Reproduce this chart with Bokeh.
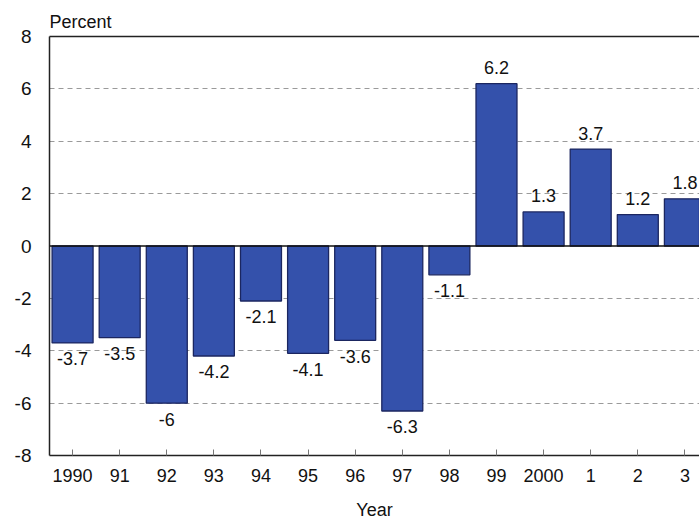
from bokeh.plotting import figure
from bokeh.models import ColumnDataSource, FixedTicker, Range1d, LinearAxis, Span
from bokeh.core.properties import value
from bokeh.embed import file_html
from bokeh.resources import INLINE

years = ["1990", "91", "92", "93", "94", "95", "96", "97", "98", "99", "2000", "1", "2", "3"]
values = [-3.7, -3.5, -6, -4.2, -2.1, -4.1, -3.6, -6.3, -1.1, 6.2, 1.3, 3.7, 1.2, 1.8]
value_labels = ["-3.7", "-3.5", "-6", "-4.2", "-2.1", "-4.1", "-3.6", "-6.3", "-1.1", "6.2", "1.3", "3.7", "1.2", "1.8"]
y_ticks = [-8, -6, -4, -2, 0, 2, 4, 6, 8]
y_tick_labels = ["-8", "-6", "-4", "-2", "0", "2", "4", "6", "8"]
grid_ticks = [-6, -4, -2, 2, 4, 6]

FONT = "Liberation Sans"
xs = list(range(len(years)))
src = ColumnDataSource(dict(
    x=xs, v=values, lab=value_labels,
    off=[-16 if v > 0 else 16 for v in values],
))

p = figure(width=699, height=522, output_backend="svg", toolbar_location=None,
           x_range=Range1d(-0.49, 13.31), y_range=Range1d(-8, 8),
           min_border_left=49, min_border_right=0, min_border_top=36, min_border_bottom=67)
p.outline_line_color = None
p.background_fill_color = "white"

p.title.text = "Percent"
p.title.text_font = FONT
p.title.text_font_size = "18px"
p.title.text_font_style = "normal"
p.title.text_color = "#111111"
p.title.align = "left"
p.title.offset = 0
p.title.standoff = 9

p.vbar(x="x", top="v", bottom=0, width=0.87, source=src,
       fill_color="#3451ab", line_color="#1b2660", line_width=1.3)

p.text(x="x", y="v", text="lab", y_offset="off", source=src,
       text_font=value(FONT), text_font_size="18px", text_color="#111111",
       text_align="center", text_baseline="middle")

p.add_layout(Span(location=0, dimension="width", line_color="#111111", line_width=1.5))

# x axis
p.xaxis.ticker = FixedTicker(ticks=xs)
p.xaxis.major_label_overrides = {i: y for i, y in enumerate(years)}
p.xaxis.major_tick_in = 6
p.xaxis.major_tick_out = 0
p.xaxis.major_tick_line_color = "#777777"
p.xaxis.minor_tick_line_color = None
p.xaxis.axis_line_color = "#222222"
p.xaxis.axis_line_width = 1.5
p.xaxis.major_label_text_font = FONT
p.xaxis.major_label_text_font_size = "18px"
p.xaxis.major_label_text_color = "#111111"
p.xaxis.major_label_standoff = 13
p.xaxis.axis_label = "Year"
p.xaxis.axis_label_text_font = FONT
p.xaxis.axis_label_text_font_size = "18px"
p.xaxis.axis_label_text_font_style = "normal"
p.xaxis.axis_label_text_color = "#111111"
p.xaxis.axis_label_standoff = 15

# y axis
p.yaxis.ticker = FixedTicker(ticks=y_ticks)
p.yaxis.major_label_overrides = {t: s for t, s in zip(y_ticks, y_tick_labels)}
p.yaxis.major_tick_line_color = None
p.yaxis.minor_tick_line_color = None
p.yaxis.axis_line_color = "#222222"
p.yaxis.axis_line_width = 1.5
p.yaxis.major_label_text_font = FONT
p.yaxis.major_label_text_font_size = "19px"
p.yaxis.major_label_text_color = "#111111"
p.yaxis.major_label_standoff = 12

# top frame line
top = LinearAxis(ticker=FixedTicker(ticks=[]), major_tick_line_color=None,
                 minor_tick_line_color=None, major_label_text_font_size="0px",
                 axis_line_color="#222222", axis_line_width=1.5)
p.add_layout(top, "above")

p.xgrid.grid_line_color = None
p.ygrid.ticker = FixedTicker(ticks=grid_ticks)
p.ygrid.grid_line_color = "#9a9a9a"
p.ygrid.grid_line_dash = "5 4"
p.ygrid.grid_line_width = 1

open("out.html", "w").write(file_html(p, INLINE))
